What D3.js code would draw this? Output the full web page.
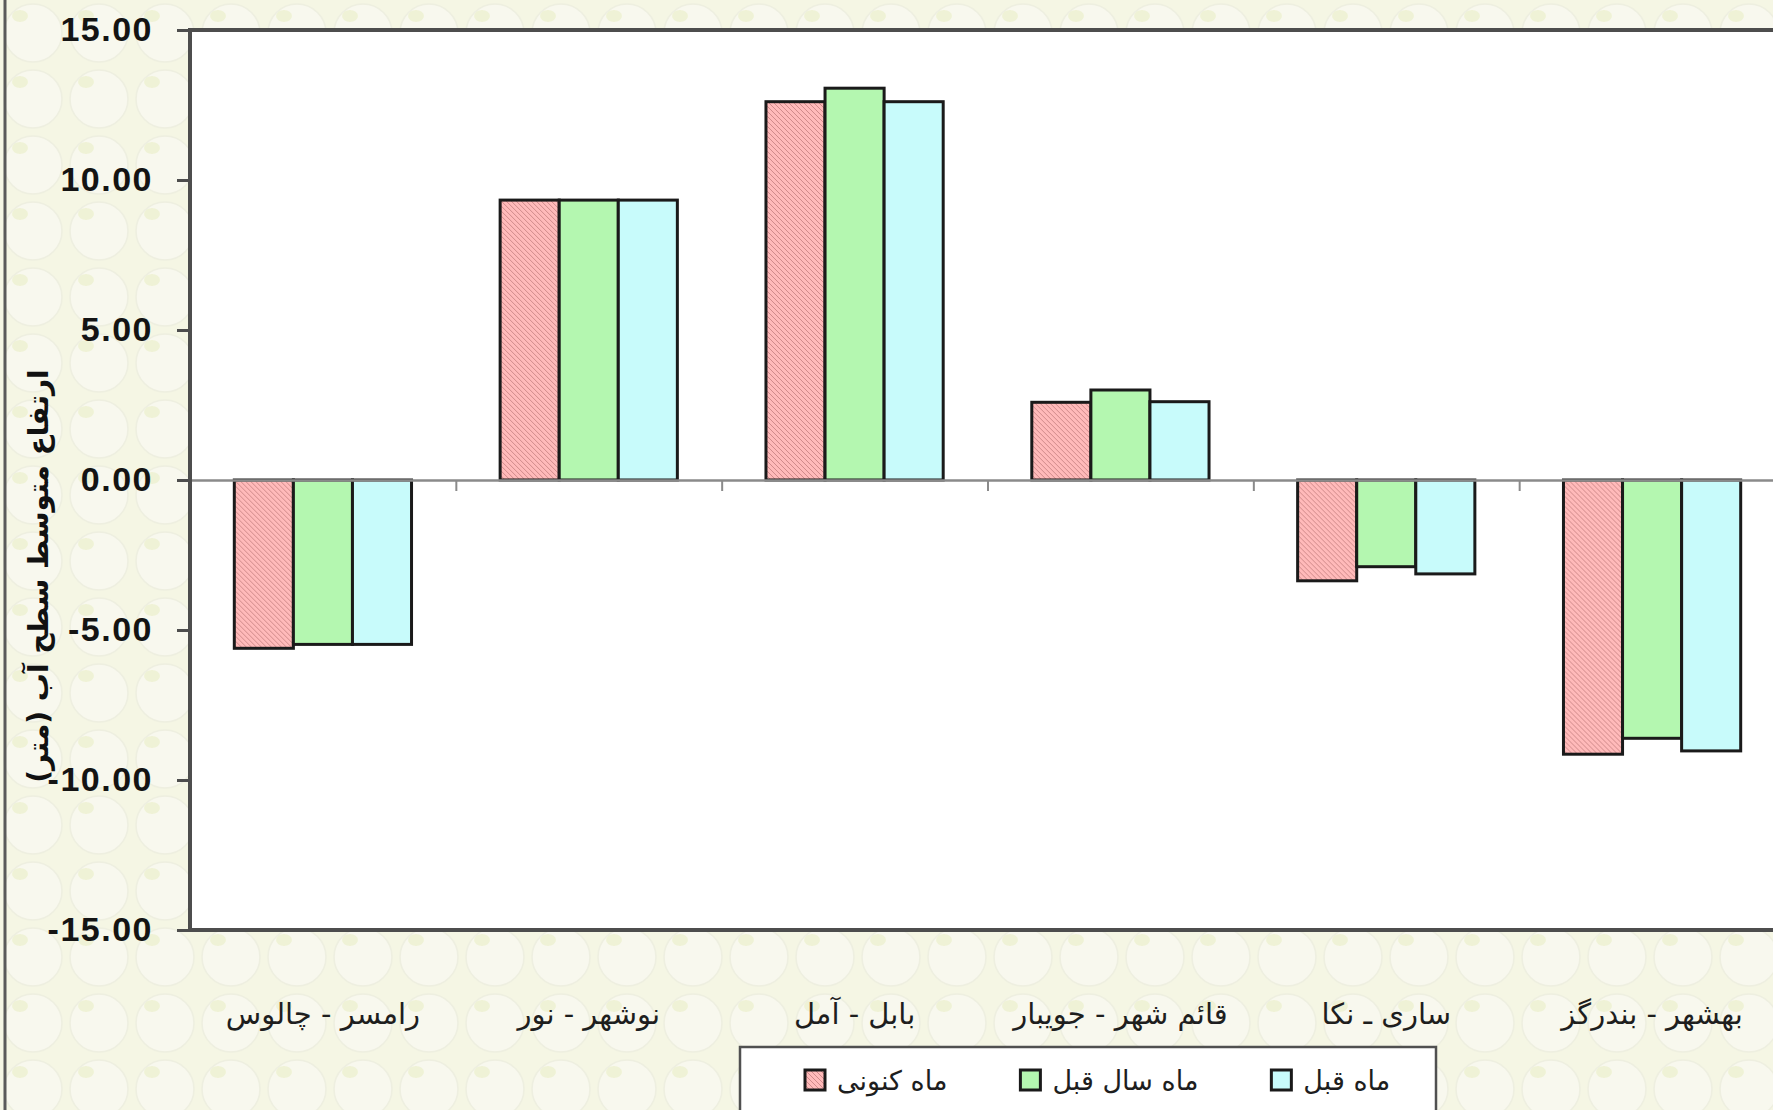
<!DOCTYPE html>
<html>
<head>
<meta charset="utf-8">
<script src="https://cdn.jsdelivr.net/npm/d3@7"></script>
<style>
  body { margin: 0; overflow: hidden; background: #f5f5e4; }
</style>
</head>
<body>
<div id="chart"></div>
<script>
// data
const categories = ["رامسر - چالوس", "نوشهر - نور", "بابل - آمل", "قائم شهر - جویبار", "ساری ـ نکا", "بهشهر - بندرگز"];
const seriesNames = ["ماه کنونی", "ماه سال قبل", "ماه قبل"];
const currentMonth = [-5.61, 9.33, 12.61, 2.59, -3.36, -9.14];
const lastYearMonth = [-5.48, 9.33, 13.06, 3.00, -2.89, -8.61];
const previousMonth = [-5.48, 9.33, 12.61, 2.61, -3.13, -9.03];
const yTicks = [15, 10, 5, 0, -5, -10, -15];
const yTitle = "ارتفاع متوسط سطح آب (متر)";

let width = 1773;
let height = 1110;
let margin = { top: 30, right: -12, bottom: 180, left: 190 };

const innerWidth = width - margin.left - margin.right;
const innerHeight = height - margin.top - margin.bottom;

const seriesValues = [currentMonth, lastYearMonth, previousMonth];
const fills = ["url(#hatch)", "#b4f7b0", "#c8fbfb"];

const svg = d3.select("#chart")
    .append("svg")
    .attr("width", width)
    .attr("height", height)
    .style("display", "block");

const defs = svg.append("defs");

// textured paper background
const bg = defs.append("pattern")
    .attr("id", "paper")
    .attr("patternUnits", "userSpaceOnUse")
    .attr("width", 66)
    .attr("height", 66);
bg.append("rect").attr("width", 66).attr("height", 66).attr("fill", "#f5f6e4");
bg.append("circle").attr("cx", 33).attr("cy", 33).attr("r", 29)
    .attr("fill", "#f8f8ee").attr("stroke", "#eeefe0").attr("stroke-width", 1.5);
bg.append("ellipse").attr("cx", 20).attr("cy", 16).attr("rx", 8).attr("ry", 6)
    .attr("fill", "#eaeec6").attr("opacity", 0.6);

// pink hatch
const hatch = defs.append("pattern")
    .attr("id", "hatch")
    .attr("patternUnits", "userSpaceOnUse")
    .attr("width", 5)
    .attr("height", 5);
hatch.append("rect").attr("width", 5).attr("height", 5).attr("fill", "#ffbaba");
hatch.append("path")
    .attr("d", "M0,0 L5,5 M-1,4 L1,6 M4,-1 L6,1")
    .attr("stroke", "#c98484")
    .attr("stroke-width", 0.9);

svg.append("rect")
    .attr("width", width)
    .attr("height", height)
    .attr("fill", "url(#paper)");

// chart area left border
svg.append("line")
    .attr("x1", 5).attr("x2", 5)
    .attr("y1", 0).attr("y2", height)
    .attr("stroke", "#5a5a5a")
    .attr("stroke-width", 3);

const g = svg.append("g")
    .attr("transform", `translate(${margin.left}, ${margin.top})`);

const xScale = d3.scaleBand()
    .domain(categories)
    .range([0, innerWidth])
    .paddingInner(1 / 3)
    .paddingOuter(1 / 6);

const xInner = d3.scaleBand()
    .domain(d3.range(seriesValues.length))
    .range([0, xScale.bandwidth()]);

const yScale = d3.scaleLinear()
    .domain([-15, 15])
    .range([innerHeight, 0]);

// plot area
g.append("rect")
    .attr("width", innerWidth)
    .attr("height", innerHeight)
    .attr("fill", "#ffffff");

// y axis
const yAxis = g.append("g")
    .call(d3.axisLeft(yScale)
        .tickValues(yTicks)
        .tickFormat(d => d.toFixed(2))
        .tickSize(13)
        .tickPadding(24));
yAxis.select(".domain").remove();
yAxis.selectAll(".tick line").attr("stroke", "#4d4d4d").attr("stroke-width", 3);
yAxis.selectAll(".tick text")
    .attr("fill", "#141414")
    .style("font-family", "'Liberation Sans', Arial, sans-serif")
    .style("font-weight", "bold")
    .style("font-size", "34px")
    .style("letter-spacing", "1.5px");

// bars
const groups = g.selectAll(".group")
    .data(categories)
    .enter()
    .append("g")
    .attr("class", "group")
    .attr("transform", d => `translate(${xScale(d)}, 0)`);

groups.selectAll("rect")
    .data((d, i) => seriesValues.map((s, k) => ({ k, v: s[i] })))
    .enter()
    .append("rect")
    .attr("x", d => xInner(d.k))
    .attr("y", d => yScale(Math.max(0, d.v)))
    .attr("width", xInner.bandwidth())
    .attr("height", d => Math.abs(yScale(d.v) - yScale(0)))
    .attr("fill", d => fills[d.k])
    .attr("stroke", "#1a1a1a")
    .attr("stroke-width", 3);

// category axis on zero line, ticks between categories
const slotScale = d3.scaleLinear()
    .domain([0, categories.length])
    .range([0, innerWidth]);
const zeroAxis = g.append("g")
    .attr("transform", `translate(0, ${yScale(0)})`)
    .call(d3.axisBottom(slotScale)
        .tickValues(d3.range(1, categories.length))
        .tickFormat("")
        .tickSizeInner(11)
        .tickSizeOuter(0));
zeroAxis.select(".domain").attr("stroke", "#8a8a8a").attr("stroke-width", 2.5);
zeroAxis.selectAll(".tick line").attr("stroke", "#8a8a8a").attr("stroke-width", 2);

// category labels
const catAxis = g.append("g")
    .attr("transform", `translate(0, ${innerHeight})`)
    .call(d3.axisBottom(xScale).tickSize(0).tickPadding(73));
catAxis.select(".domain").remove();
catAxis.selectAll(".tick text")
    .attr("fill", "#1e1e1e")
    .style("font-family", "'DejaVu Sans', sans-serif")
    .style("font-size", "29px");

// plot border
g.append("rect")
    .attr("width", innerWidth)
    .attr("height", innerHeight)
    .attr("fill", "none")
    .attr("stroke", "#4d4d4d")
    .attr("stroke-width", 4);

// y title
svg.append("text")
    .attr("transform", `translate(38, ${margin.top + yScale(-3.2)}) rotate(-90)`)
    .attr("text-anchor", "middle")
    .attr("dominant-baseline", "central")
    .attr("fill", "#111")
    .style("font-family", "'DejaVu Sans', sans-serif")
    .style("font-weight", "bold")
    .style("font-size", "28px")
    .text(yTitle);

// legend
const legend = svg.append("g").attr("transform", "translate(740, 1047)");
legend.append("rect")
    .attr("width", 696)
    .attr("height", 100)
    .attr("fill", "#ffffff")
    .attr("stroke", "#505050")
    .attr("stroke-width", 2.5);

let lx = 65;
seriesNames.forEach((name, k) => {
    const item = legend.append("g").attr("transform", `translate(${lx}, 33)`);
    item.append("rect")
        .attr("x", 0).attr("y", -10)
        .attr("width", 20).attr("height", 20)
        .attr("fill", fills[k])
        .attr("stroke", "#1a1a1a")
        .attr("stroke-width", 3);
    const t = item.append("text")
        .attr("x", 32)
        .attr("dominant-baseline", "central")
        .attr("fill", "#1e1e1e")
        .style("font-family", "'DejaVu Sans', sans-serif")
        .style("font-size", "27px")
        .text(name);
    lx += 32 + t.node().getComputedTextLength() + 73;
});
</script>
</body>
</html>
